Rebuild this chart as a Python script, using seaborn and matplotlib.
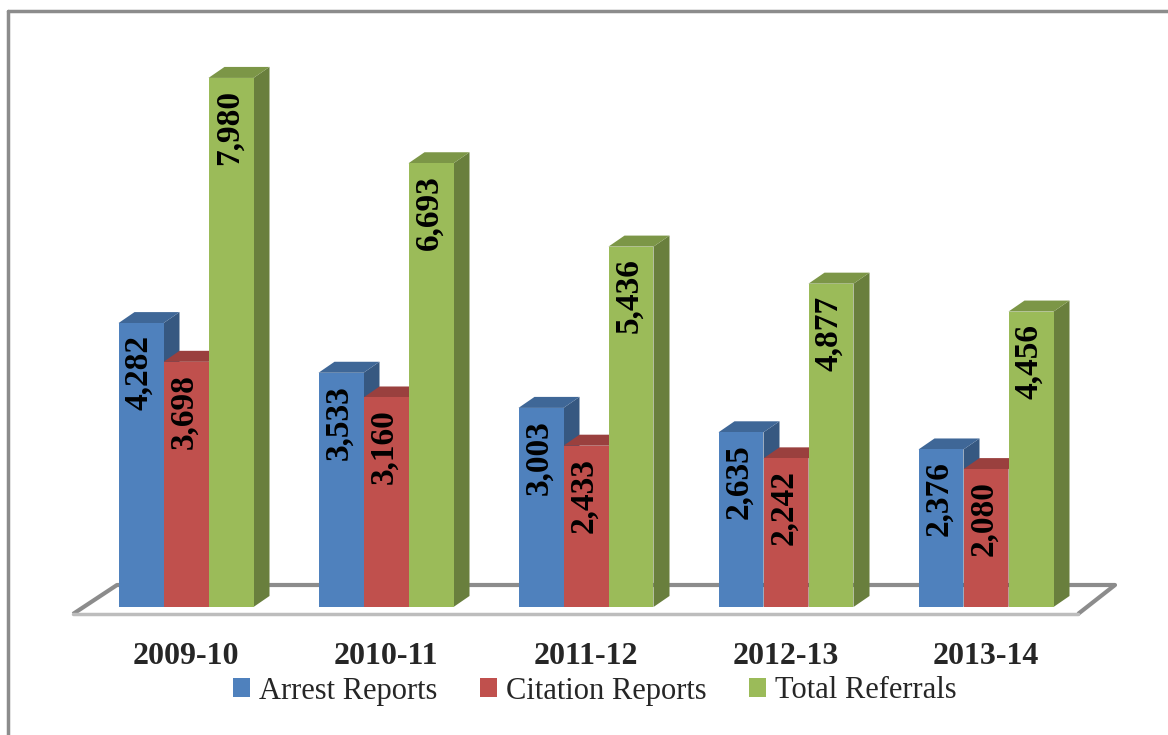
import numpy as np
import pandas as pd
import matplotlib.pyplot as plt
import matplotlib.colors as mcolors
from matplotlib.patches import Patch, Polygon
from matplotlib.lines import Line2D
import seaborn as sns

years = ["2009-10", "2010-11", "2011-12", "2012-13", "2013-14"]
series = ["Arrest Reports", "Citation Reports", "Total Referrals"]
arrest = [4282, 3533, 3003, 2635, 2376]
citation = [3698, 3160, 2433, 2242, 2080]
total = [7980, 6693, 5436, 4877, 4456]
colors = ["#4F81BD", "#C0504D", "#9BBB59"]

df = pd.DataFrame({
    "year": years * 3,
    "series": [s for s in series for _ in years],
    "value": arrest + citation + total,
})

sns.set_style("white")
plt.rcParams["font.family"] = ["Liberation Serif", "DejaVu Serif"]

W, H = 1168, 735
fig = plt.figure(figsize=(W / 100, H / 100), dpi=100)
ymax = 8500
ax = fig.add_axes([86 / W, 1 - 607 / H, 1000 / W, ymax * 0.0663 / H])

sns.barplot(data=df, x="year", y="value", hue="series", palette=colors,
            width=0.675, gap=0, saturation=1, edgecolor="none",
            legend=False, ax=ax)
bars = list(ax.patches)
ax.set_xlim(-0.5, 4.5)
ax.set_ylim(0, ymax)

# pixel -> data conversions
px_x = 1 / 200.0
px_y = 1 / 0.0663

# floor
fx0, fx1 = -0.5 - 13 * px_x, 4.5 - 8 * px_x
fdx, fy0, fy1 = 44 * px_x, -7 * px_y, 22 * px_y
floor = Polygon([(fx0, fy0), (fx1, fy0), (fx1 + fdx - 7 * px_x, fy1), (fx0 + fdx, fy1)],
                closed=True, facecolor="white", edgecolor="none", zorder=0.5, clip_on=False)
ax.add_patch(floor)
ax.plot([fx0, fx0 + fdx, fx1 + fdx - 7 * px_x, fx1], [fy0, fy1, fy1, fy0],
        color="#8C8C8C", lw=3.0, zorder=0.6, clip_on=False, solid_capstyle="butt")
ax.plot([fx0, fx1], [fy0, fy0], color="#BDBDBD", lw=2.5, zorder=0.6, clip_on=False)

# pseudo 3D faces and labels
dx, dy = 16 * px_x, 11 * px_y
n = len(years)
for i, p in enumerate(bars):
    k = i // n
    base = np.array(mcolors.to_rgb(colors[k]))
    x0, w, h = p.get_x(), p.get_width(), p.get_height()
    p.set_zorder(5)
    side = Polygon([(x0 + w, 0), (x0 + w + dx, dy), (x0 + w + dx, h + dy), (x0 + w, h)],
                   closed=True, facecolor=base * 0.68, edgecolor="none",
                   zorder=2 + 0.2 * k, clip_on=False)
    top = Polygon([(x0, h), (x0 + dx, h + dy), (x0 + w + dx, h + dy), (x0 + w, h)],
                  closed=True, facecolor=base * 0.8, edgecolor="none",
                  zorder=2.1 + 0.2 * k, clip_on=False)
    ax.add_patch(side)
    ax.add_patch(top)
    ax.text(x0 + w / 2 - 2 * px_x, h - 12 * px_y, f"{h:,.0f}", rotation=90,
            ha="center", va="top", fontsize=24, fontweight="bold",
            color="black", zorder=6)

ax.set_xlabel("")
ax.set_ylabel("")
ax.set_yticks([])
ax.tick_params(axis="x", length=0, pad=25)
for lab in ax.get_xticklabels():
    lab.set_fontsize(23)
    lab.set_fontweight("bold")
for s in ax.spines.values():
    s.set_visible(False)
ax.patch.set_alpha(0)

handles = [Patch(facecolor=c, edgecolor="none") for c in colors]
fig.legend(handles, series, loc="center", bbox_to_anchor=(595 / W, 1 - 691 / H),
           ncol=3, frameon=False, fontsize=22, handlelength=0.55, handleheight=0.55,
           handletextpad=0.3, columnspacing=1.4, borderpad=0)

# outer frame (top and left)
fig.add_artist(Line2D([8 / W, 8 / W], [0, 1 - 11 / H], color="#8C8C8C", lw=2.5))
fig.add_artist(Line2D([8 / W, 1], [1 - 11 / H, 1 - 11 / H], color="#8C8C8C", lw=2.5))

fig.savefig("out.png", dpi=100)
